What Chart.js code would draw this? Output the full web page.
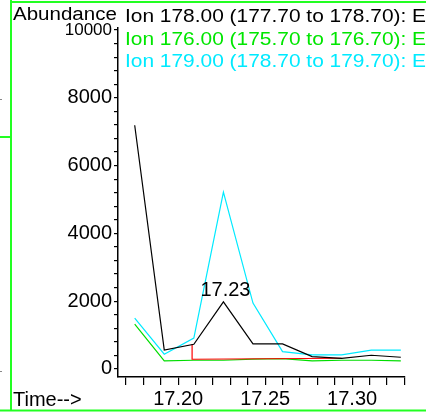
<!DOCTYPE html>
<html>
<head>
<meta charset="utf-8">
<script src="https://cdn.jsdelivr.net/npm/chart.js@4"></script>
<style>
  body { margin: 0; background: #fff; }
  canvas { display: block; }
</style>
</head>
<body>
<canvas id="chart" width="426" height="413"></canvas>
<script>
// retention times (min) of the scans
const times = [17.175, 17.192, 17.209, 17.226, 17.243, 17.260, 17.277, 17.294, 17.311, 17.328];

// ion abundances
const ion178 = [7190, 560, 730, 1980, 740, 740, 365, 315, 405, 345];
const ion176 = [1320, 237, 257, 257, 290, 305, 237, 257, 257, 237];
const ion179 = [1500, 435, 910, 5215, 1945, 512, 415, 415, 553, 553];

// integration baseline (red)
const baseTimes = [17.208, 17.208, 17.294];
const baseVals = [730, 287, 316];

// axis ticks
const xTicks = [17.17, 17.18, 17.19, 17.20, 17.21, 17.22, 17.23, 17.24, 17.25,
  17.26, 17.27, 17.28, 17.29, 17.30, 17.31, 17.32, 17.33];
const yTicks = [0, 400, 800, 1200, 1600, 2000, 2400, 2800, 3200, 3600, 4000, 4400, 4800,
  5200, 5600, 6000, 6400, 6800, 7200, 7600, 8000, 8400, 8800, 9200, 9600, 10000];

const legendLines = [
  { text: 'Ion 178.00 (177.70 to 178.70): E', color: '#000000' },
  { text: 'Ion 176.00 (175.70 to 176.70): E', color: '#00e600' },
  { text: 'Ion 179.00 (178.70 to 179.70): E', color: '#00eaff' }
];

const FONT = '"Liberation Sans", Arial, sans-serif';

function pts(xs, ys) {
  return xs.map((t, i) => ({ x: t, y: ys[i] }));
}

// frame, captions and the peak label
const decor = {
  id: 'decor',
  afterDraw(chart) {
    const c = chart.ctx;
    c.save();
    // green frame
    c.strokeStyle = '#22ff22';
    c.lineWidth = 2;
    c.beginPath();
    c.moveTo(11, 0); c.lineTo(11, 411);
    c.moveTo(11, 2); c.lineTo(426, 2);
    c.moveTo(0, 410.5); c.lineTo(426, 410.5);
    c.moveTo(0, 137); c.lineTo(11, 137);
    c.stroke();
    c.fillStyle = '#888';
    c.fillRect(0, 99, 2, 1);
    c.fillRect(0, 371, 2, 1);

    // "Abundance"
    c.fillStyle = '#000';
    c.textBaseline = 'alphabetic';
    c.textAlign = 'left';
    c.save();
    c.translate(13, 20);
    c.scale(1.14, 1);
    c.font = '18px ' + FONT;
    c.fillText('Abundance', 0, 0);
    c.restore();

    // ion lines
    legendLines.forEach((l, i) => {
      c.save();
      c.translate(125, 22 + i * 22.5);
      c.scale(1.13, 1);
      c.font = '18.5px ' + FONT;
      c.fillStyle = l.color;
      c.fillText(l.text, 0, 0);
      c.restore();
    });

    // "Time-->"
    c.font = '20px ' + FONT;
    c.fillStyle = '#000';
    c.fillText('Time-->', 13, 406);

    // peak label
    let k = 0;
    ion178.forEach((v, i) => { if (v > ion178[k] && i > 0) k = i; });
    if (k === 0) k = 3;
    const px = chart.scales.x.getPixelForValue(times[k]);
    const py = chart.scales.y.getPixelForValue(ion178[k]);
    c.textAlign = 'center';
    c.fillText(times[k].toFixed(2), px + 2, py - 6);
    c.restore();
  }
};

new Chart(document.getElementById('chart'), {
  type: 'line',
  data: {
    datasets: [
      { data: pts(times, ion178), borderColor: '#000000', borderWidth: 1.2 },
      { data: pts(baseTimes, baseVals), borderColor: '#ff0000', borderWidth: 1.2 },
      { data: pts(times, ion176), borderColor: '#00dd00', borderWidth: 1.2 },
      { data: pts(times, ion179), borderColor: '#00eaff', borderWidth: 1.2 }
    ]
  },
  options: {
    responsive: false,
    animation: false,
    layout: { padding: { top: 28, right: 21, bottom: 0, left: 0 } },
    elements: { point: { radius: 0 }, line: { tension: 0, fill: false } },
    plugins: { legend: { display: false }, tooltip: { enabled: false } },
    scales: {
      x: {
        type: 'linear',
        position: 'bottom',
        min: 17.1654,
        max: 17.3304,
        afterFit(s) { s.height = 36; },
        afterBuildTicks(s) { s.ticks = xTicks.map(v => ({ value: v })); },
        ticks: {
          autoSkip: false,
          maxRotation: 0,
          padding: 2,
          color: '#000',
          font: { size: 20, family: FONT },
          callback: v => (Math.round(v * 100) % 5 === 0 ? v.toFixed(2) : '')
        },
        grid: { drawOnChartArea: false, drawTicks: true, tickLength: 8, color: '#000', lineWidth: 1.2 },
        border: { color: '#000', width: 1.5 }
      },
      y: {
        type: 'linear',
        min: -237,
        max: 10060,
        afterFit(s) { s.width = 118; },
        afterBuildTicks(s) { s.ticks = yTicks.map(v => ({ value: v })); },
        ticks: {
          autoSkip: false,
          padding: 2,
          color: '#000',
          font: ctx => ({ size: ctx.tick && ctx.tick.value === 10000 ? 17 : 20, family: FONT }),
          callback: v => (v % 2000 === 0 ? String(v) : '')
        },
        grid: { drawOnChartArea: false, drawTicks: true, tickLength: 4, color: '#000', lineWidth: 1.2 },
        border: { color: '#000', width: 1.5 }
      }
    }
  },
  plugins: [decor]
});
</script>
</body>
</html>
